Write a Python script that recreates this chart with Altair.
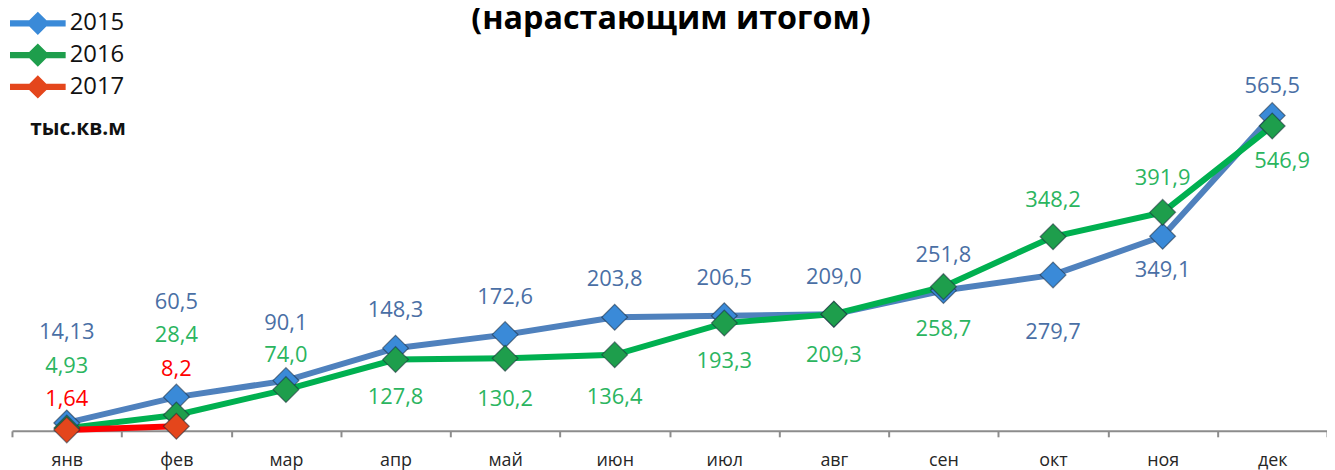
import altair as alt
import pandas as pd

title_text = ["(нарастающим итогом)"]
months = ["янв", "фев", "мар", "апр", "май", "июн", "июл", "авг", "сен", "окт", "ноя", "дек"]
years = ["2015", "2016", "2017"]
v2015 = [14.13, 60.5, 90.1, 148.3, 172.6, 203.8, 206.5, 209.0, 251.8, 279.7, 349.1, 565.5]
v2016 = [4.93, 28.4, 74.0, 127.8, 130.2, 136.4, 193.3, 209.3, 258.7, 348.2, 391.9, 546.9]
v2017 = [1.64, 8.2]

# label offsets (pixels, relative to the point)
dy2015 = [-91, -96, -58, -38, -38, -38, -38, -38, -36, 57, 34, -30]
dy2016 = [-62, -80, -35, 38, 41, 42, 38, 41, 43, -37, -35, 35]
dy2017 = [-31, -58]
dx2016 = [0, 0, 0, 0, 0, 0, 0, 0, 0, 0, 0, 10]

line_colors = ["#4F81BD", "#00B050", "#FF0000"]
marker_fill = ["#3A8AD8", "#1E9E4C", "#E4461C"]
text_colors = ["#4A6FA5", "#2BB55F", "#FF0000"]

rows = []
for yr, vals, dys, dxs in [
    ("2015", v2015, dy2015, [0] * 12),
    ("2016", v2016, dy2016, dx2016),
    ("2017", v2017, dy2017, [0, 0]),
]:
    for i, v in enumerate(vals):
        rows.append({
            "month": months[i], "year": yr, "value": v,
            "label": str(v).replace(".", ","), "dy": dys[i], "dx": dxs[i],
        })
df = pd.DataFrame(rows)

FONT = "Open Sans"

x = alt.X("month:N", sort=months, title=None,
          scale=alt.Scale(paddingInner=0, paddingOuter=0),
          axis=alt.Axis(labelAngle=0, tickBand="extent", domainColor="#8C8C8C",
                        domainWidth=2, tickColor="#8C8C8C", tickWidth=2, tickSize=6,
                        labelFont=FONT, labelFontSize=18, labelColor="#262626",
                        labelPadding=15, grid=False))
y = alt.Y("value:Q", scale=alt.Scale(domain=[0, 756], nice=False, zero=True),
          axis=alt.Axis(domain=False, ticks=False, labels=False, grid=False,
                        title="тыс.кв.м", titleAngle=0, titleX=66, titleY=120,
                        titleAlign="center", titleBaseline="middle",
                        titleFont=FONT, titleFontSize=21, titleFontWeight="bold",
                        titleColor="#111111"))

base = alt.Chart(df)

lines = base.mark_line(strokeWidth=6).encode(
    x=x, y=y,
    color=alt.Color("year:N", scale=alt.Scale(domain=years, range=line_colors), legend=None),
    order=alt.Order("month_idx:Q"),
).transform_calculate(month_idx="indexof(%s, datum.month)" % str(months).replace("'", '"'))

legend_path = "M-1,-0.11L1,-0.11L1,0.11L-1,0.11Z M0,-0.42L0.42,0L0,0.42L-0.42,0Z"

points = base.mark_point(shape="diamond", filled=True, size=676, opacity=1,
                         stroke="#1a2a3a", strokeOpacity=0.55, strokeWidth=1.2).encode(
    x=x, y=y,
    fill=alt.Fill("year:N", scale=alt.Scale(domain=years, range=marker_fill),
                  legend=alt.Legend(title=None, orient="none", legendX=-2, legendY=0,
                                    symbolType=legend_path, symbolSize=3136,
                                    symbolStrokeWidth=0, clipHeight=28, rowPadding=4,
                                    labelOffset=4, labelFont=FONT, labelFontSize=24,
                                    labelColor="#111111", padding=0, symbolOpacity=1)),
)

text_layers = []
pairs = sorted(set(zip(df["dx"], df["dy"])))
for dxv, dyv in pairs:
    t = base.transform_filter(
        (alt.datum.dx == int(dxv)) & (alt.datum.dy == int(dyv))
    ).mark_text(dx=int(dxv), dy=int(dyv), font=FONT, fontSize=22, baseline="middle",
                align="center").encode(
        x=x, y=y, text="label:N",
        fill=alt.Fill("year:N", scale=alt.Scale(domain=years, range=text_colors), legend=None),
    )
    text_layers.append(t)

title_layer = alt.Chart(pd.DataFrame({"t": title_text})).mark_text(
    font=FONT, fontSize=32.5, fontWeight="bold", color="#000000",
    align="center", baseline="alphabetic"
).encode(x=alt.value(663), y=alt.value(20), text="t:N")

chart = alt.layer(lines, points, *text_layers, title_layer).resolve_scale(
    color="independent", fill="independent"
).properties(
    width=1323, height=424,
    autosize=alt.AutoSizeParams(type="none"),
    padding={"left": 4, "top": 0, "right": 0, "bottom": 40},
).configure_view(stroke=None)

chart.save("out.html", embed_options={"renderer": "svg", "actions": False})
